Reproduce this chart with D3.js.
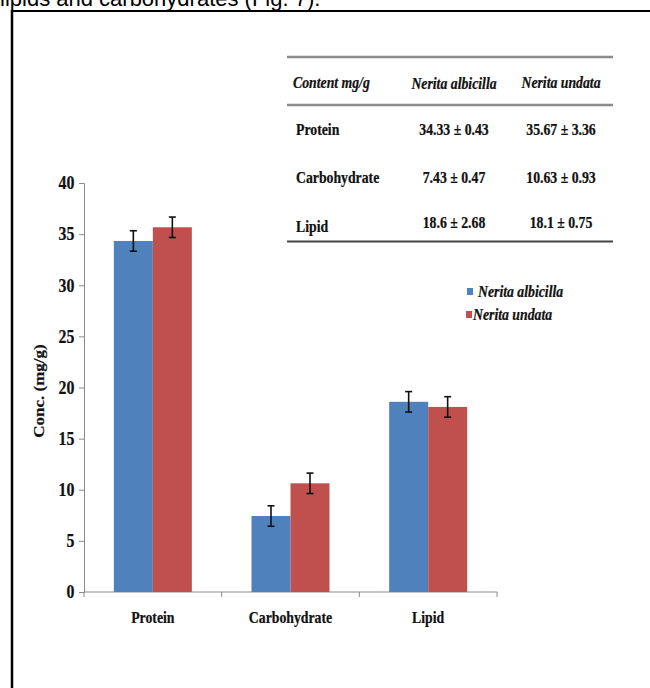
<!DOCTYPE html>
<html>
<head>
<meta charset="utf-8">
<script src="https://cdn.jsdelivr.net/npm/d3@7"></script>
<style>
  html, body { margin: 0; padding: 0; background: #fff; }
  svg { display: block; }
</style>
</head>
<body>
<svg id="chart" width="650" height="688"></svg>
<script>
// ---------- data ----------
const categories = ["Protein", "Carbohydrate", "Lipid"];
const seriesNames = ["Nerita albicilla", "Nerita undata"];
const albicillaValues = [34.33, 7.43, 18.6];
const undataValues = [35.67, 10.63, 18.1];
const albicillaErrors = [1, 1, 1];
const undataErrors = [1, 1, 1];
const yTicks = [0, 5, 10, 15, 20, 25, 30, 35, 40];
const seriesColors = ["#4F81BD", "#C0504D"];

const tableHeader = ["Content mg/g", "Nerita albicilla", "Nerita undata"];
const tableRowLabels = ["Protein", "Carbohydrate", "Lipid"];
const tableAlbicilla = ["34.33 \u00b1 0.43", "7.43 \u00b1 0.47", "18.6 \u00b1 2.68"];
const tableUndata = ["35.67 \u00b1 3.36", "10.63 \u00b1 0.93", "18.1 \u00b1 0.75"];
const captionText = "lipids and carbohydrates (Fig. 7).";

// ---------- drawing ----------
const svg = d3.select("#chart");
const SX = 0.81; // horizontal squeeze of the picture's text
const serif = "'Liberation Serif', 'Times New Roman', serif";

function stext(parent, x, y, str, opts) {
  opts = opts || {};
  const t = parent.append("text")
    .attr("transform", `translate(${x},${y}) scale(${opts.sx || SX},1)` + (opts.rotate ? ` rotate(${opts.rotate})` : ""))
    .attr("font-family", serif)
    .attr("font-weight", "bold")
    .attr("font-style", opts.italic ? "italic" : "normal")
    .attr("font-size", opts.size || 17)
    .attr("text-anchor", opts.anchor || "start")
    .attr("fill", "#111")
    .attr("stroke", "#111").attr("stroke-width", 0.25)
    .text(str);
  return t;
}

// caption from surrounding document (cut by the picture's top edge, as in the reference)
svg.append("text")
  .attr("x", 0).attr("y", 6)
  .attr("font-family", "'Liberation Sans', Arial, sans-serif")
  .attr("font-size", 22)
  .attr("fill", "#000")
  .text(captionText);

// frame
svg.append("line").attr("x1", 11).attr("x2", 650).attr("y1", 11).attr("y2", 11)
  .attr("stroke", "#000").attr("stroke-width", 2);
svg.append("line").attr("x1", 12).attr("x2", 12).attr("y1", 10).attr("y2", 688)
  .attr("stroke", "#000").attr("stroke-width", 2.5);

// scales
const y = d3.scaleLinear().domain([0, 40]).range([592, 183]);
const x0 = d3.scaleBand().domain(categories).range([84, 497]).paddingInner(0).paddingOuter(0);
const x1 = d3.scaleBand().domain(seriesNames).range([0, x0.bandwidth()]).paddingInner(0).paddingOuter(0.765);

const axisColor = "#8a8a8a";

// y axis
const yAxis = svg.append("g").attr("transform", "translate(84,0)")
  .call(d3.axisLeft(y).tickValues(yTicks).tickSize(5).tickPadding(6).tickFormat(d3.format("d")));
yAxis.select(".domain").attr("stroke", axisColor);
yAxis.selectAll(".tick line").attr("stroke", axisColor);
yAxis.selectAll(".tick text")
  .attr("font-family", serif).attr("font-weight", "bold").attr("font-size", 18)
  .attr("fill", "#111").attr("stroke", "#111").attr("stroke-width", 0.25)
  .attr("transform", "scale(0.88,1)");

// x axis line and ticks at band boundaries
const xAxis = svg.append("g");
xAxis.append("line").attr("x1", 84).attr("x2", 497).attr("y1", y(0)).attr("y2", y(0))
  .attr("stroke", axisColor).attr("stroke-width", 1);
const boundaries = categories.map(c => x0(c)).concat([x0(categories[categories.length - 1]) + x0.bandwidth()]);
xAxis.selectAll("line.tk").data(boundaries).enter().append("line")
  .attr("class", "tk")
  .attr("x1", d => d).attr("x2", d => d)
  .attr("y1", y(0)).attr("y2", y(0) + 5)
  .attr("stroke", axisColor);

categories.forEach(c => {
  stext(svg, x0(c) + x0.bandwidth() / 2, 623, c, { anchor: "middle", size: 17 });
});

// axis title
stext(svg, 44, 391, "Conc. (mg/g)", { anchor: "middle", size: 17, rotate: -90 });

// bars
const seriesValues = [albicillaValues, undataValues];
const seriesErrors = [albicillaErrors, undataErrors];
seriesNames.forEach((s, si) => {
  const g = svg.append("g");
  g.selectAll("rect").data(categories).enter().append("rect")
    .attr("x", c => x0(c) + x1(s))
    .attr("y", (c, i) => y(seriesValues[si][i]))
    .attr("width", x1.bandwidth())
    .attr("height", (c, i) => y(0) - y(seriesValues[si][i]))
    .attr("fill", seriesColors[si]);
  // error bars
  const eg = svg.append("g").attr("stroke", "#111").attr("stroke-width", 1.6);
  categories.forEach((c, i) => {
    const cx = x0(c) + x1(s) + x1.bandwidth() / 2;
    const v = seriesValues[si][i], e = seriesErrors[si][i];
    eg.append("line").attr("x1", cx).attr("x2", cx).attr("y1", y(v + e)).attr("y2", y(v - e));
    eg.append("line").attr("x1", cx - 3.5).attr("x2", cx + 3.5).attr("y1", y(v + e)).attr("y2", y(v + e));
    eg.append("line").attr("x1", cx - 3.5).attr("x2", cx + 3.5).attr("y1", y(v - e)).attr("y2", y(v - e));
  });
});

// legend
const legendY = d3.scalePoint().domain(seriesNames).range([297, 320]);
const legendSX = [467, 466];
seriesNames.forEach((s, i) => {
  svg.append("rect")
    .attr("x", legendSX[i]).attr("y", legendY(s) - 9)
    .attr("width", 6).attr("height", 7)
    .attr("fill", seriesColors[i]);
  stext(svg, legendSX[i] + (i === 0 ? 11 : 7), legendY(s), s, { italic: true, size: 17 });
});

// table
const tbl = svg.append("g");
tbl.append("line").attr("x1", 287).attr("x2", 613).attr("y1", 57).attr("y2", 57)
  .attr("stroke", "#8c8c8c").attr("stroke-width", 2.5);
tbl.append("line").attr("x1", 287).attr("x2", 613).attr("y1", 105).attr("y2", 105)
  .attr("stroke", "#8c8c8c").attr("stroke-width", 2.5);
tbl.append("line").attr("x1", 287).attr("x2", 613).attr("y1", 241.5).attr("y2", 241.5)
  .attr("stroke", "#444").attr("stroke-width", 2);

const colX = [293, 454, 561];
stext(tbl, colX[0], 88, tableHeader[0], { italic: true, size: 17 });
stext(tbl, colX[1], 89, tableHeader[1], { italic: true, size: 17, anchor: "middle" });
stext(tbl, colX[2], 88, tableHeader[2], { italic: true, size: 17, anchor: "middle" });

const rowY = d3.scalePoint().domain(tableRowLabels).range([135, 230]);
tableRowLabels.forEach((r, i) => {
  stext(tbl, 296, rowY(r) + (i === 2 ? 2 : 0), r, { size: 17 });
  stext(tbl, colX[1], rowY(r) - (i === 2 ? 2 : 0), tableAlbicilla[i], { size: 17, anchor: "middle" });
  stext(tbl, colX[2], rowY(r) - (i === 2 ? 2 : 0), tableUndata[i], { size: 17, anchor: "middle" });
});
</script>
</body>
</html>
